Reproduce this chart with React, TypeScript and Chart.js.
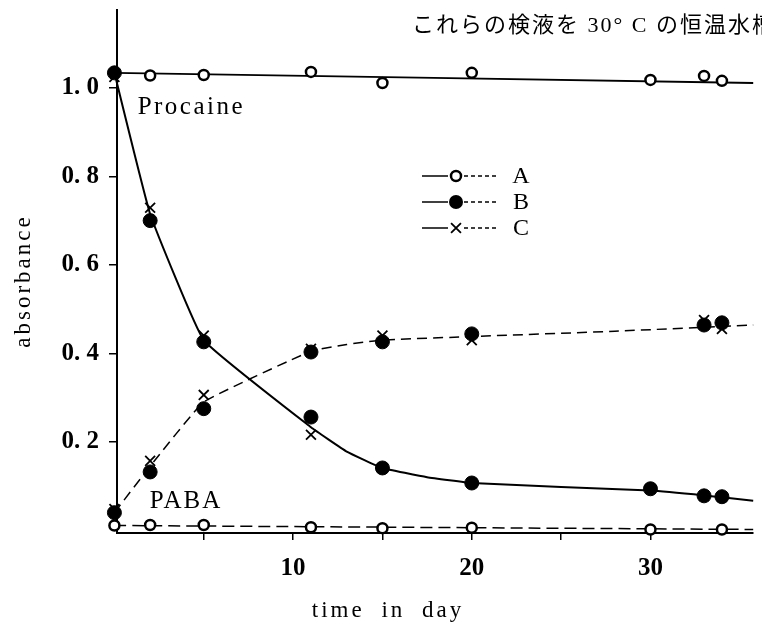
import React, { useEffect, useRef } from 'react';
import { Chart, registerables } from 'chart.js';

Chart.register(...registerables);

// ---------------- data ----------------
const days = [0, 2, 5, 11, 15, 20, 30, 33, 34];

// procaine (solid curves)
const procaineA = [1.034, 1.028, 1.029, 1.036, 1.011, 1.034, 1.018, 1.027, 1.016];
const procaineB = [1.034, 0.70, 0.426, 0.256, 0.141, 0.107, 0.094, 0.078, 0.076];
const procaineC = [1.025, 0.729, 0.44, 0.216, 0.141, 0.107, 0.094, 0.078, 0.076];

// PABA (dashed curves)
const pabaA = [0.011, 0.012, 0.012, 0.007, 0.005, 0.006, 0.002, null, 0.002];
const pabaB = [0.04, 0.132, 0.275, 0.403, 0.426, 0.444, null, 0.464, 0.469];
const pabaC = [0.048, 0.157, 0.306, 0.41, 0.44, 0.43, null, 0.475, 0.455];

// drawn (hand-fitted) curves
const fitProcaineADays = [0, 35.75];
const fitProcaineA = [1.034, 1.011];
const fitProcaineBCDays = [0, 2, 5, 11, 13, 15, 17.5, 20, 25, 30, 33, 35.75];
const fitProcaineBC = [1.034, 0.715, 0.43, 0.233, 0.178, 0.141, 0.12, 0.107, 0.098, 0.09, 0.079, 0.067];
const fitPabaADays = [0, 35.75];
const fitPabaA = [0.011, 0.002];
const fitPabaBCDays = [0, 2, 5, 11, 13, 15, 20, 28, 35.75];
const fitPabaBC = [0.04, 0.145, 0.29, 0.405, 0.42, 0.43, 0.438, 0.45, 0.464];

// axes
const xTicks = [5, 10, 15, 20, 25, 30];
const xTickLabels = ['', '10', '', '20', '', '30'];
const yTicks = [0.2, 0.4, 0.6, 0.8, 1.0];
const yTickLabels = ['0. 2', '0. 4', '0. 6', '0. 8', '1. 0'];
const xMin = 0.145;
const xMax = 35.75;
const yMin = -0.006;
const yMax = 1.176;

// texts
const legendLabels = ['A', 'B', 'C'];
const topNote = 'これらの検液を 30° C の恒温水槽';
const yTitle = 'absorbance';
const xTitle = 'time in day';
const procaineLabel = 'Procaine';
const procaineLabelAt = [1.3, 0.94];
const pabaLabel = 'PABA';
const pabaLabelAt = [1.98, 0.05];

// ---------------- helpers ----------------
const SERIF = '"Liberation Serif", "Times New Roman", serif';

function pts(xs: number[], ys: (number | null)[]) {
  return xs
    .map((x, i) => ({ x, y: ys[i] }))
    .filter((p) => p.y !== null) as { x: number; y: number }[];
}

const openStyle = {
  pointStyle: 'circle',
  pointRadius: 5,
  pointBorderWidth: 2.5,
  pointBackgroundColor: '#fff',
  pointBorderColor: '#000',
  showLine: false,
  clip: false as any,
};
const filledStyle = {
  pointStyle: 'circle',
  pointRadius: 7,
  pointBorderWidth: 1,
  pointBackgroundColor: '#000',
  pointBorderColor: '#000',
  showLine: false,
  clip: false as any,
};
const crossStyle = {
  pointStyle: 'crossRot',
  pointRadius: 7,
  pointBorderWidth: 1.8,
  pointBackgroundColor: '#000',
  pointBorderColor: '#000',
  showLine: false,
  clip: false as any,
};

function fitStyle(dash: number[], width: number) {
  return {
    showLine: true,
    pointRadius: 0,
    borderColor: '#000',
    borderWidth: width,
    borderDash: dash,
    tension: 0.1,
    fill: false,
    clip: false as any,
    order: 10,
  };
}

function drawMarker(ctx: CanvasRenderingContext2D, kind: number, x: number, y: number) {
  ctx.save();
  ctx.setLineDash([]);
  if (kind === 0) {
    ctx.beginPath();
    ctx.arc(x, y, 5, 0, Math.PI * 2);
    ctx.fillStyle = '#fff';
    ctx.fill();
    ctx.lineWidth = 2.5;
    ctx.strokeStyle = '#000';
    ctx.stroke();
  } else if (kind === 1) {
    ctx.beginPath();
    ctx.arc(x, y, 7, 0, Math.PI * 2);
    ctx.fillStyle = '#000';
    ctx.fill();
  } else {
    const d = 7 * Math.cos(Math.PI / 4);
    ctx.lineWidth = 1.8;
    ctx.strokeStyle = '#000';
    ctx.beginPath();
    ctx.moveTo(x - d, y - d);
    ctx.lineTo(x + d, y + d);
    ctx.moveTo(x + d, y - d);
    ctx.lineTo(x - d, y + d);
    ctx.stroke();
  }
  ctx.restore();
}

const notesPlugin = {
  id: 'notes',
  afterDraw(chart: any) {
    const ctx: any = chart.ctx;
    const xs = chart.scales.x;
    const ys = chart.scales.y;
    ctx.save();
    ctx.fillStyle = '#000';
    ctx.strokeStyle = '#000';

    // top note (cut by the page edge, as in the source)
    ctx.font = `22px "Liberation Serif", "Noto Sans CJK JP", serif`;
    ctx.letterSpacing = '2px';
    ctx.textAlign = 'left';
    ctx.textBaseline = 'alphabetic';
    ctx.fillText(topNote, 412, 32);

    // curve labels
    ctx.font = `25px ${SERIF}`;
    ctx.letterSpacing = '2.5px';
    ctx.fillText(procaineLabel, xs.getPixelForValue(procaineLabelAt[0]), ys.getPixelForValue(procaineLabelAt[1]));
    ctx.letterSpacing = '2px';
    ctx.fillText(pabaLabel, xs.getPixelForValue(pabaLabelAt[0]), ys.getPixelForValue(pabaLabelAt[1]));

    // axis titles
    ctx.font = `23px ${SERIF}`;
    ctx.letterSpacing = '3px';
    ctx.wordSpacing = '8px';
    ctx.textAlign = 'center';
    ctx.fillText(xTitle, 388, 617);
    ctx.save();
    ctx.translate(24, 281);
    ctx.rotate(-Math.PI / 2);
    ctx.textBaseline = 'middle';
    ctx.fillText(yTitle, 0, 0);
    ctx.restore();
    ctx.wordSpacing = '0px';

    // legend
    legendLabels.forEach((lab, i) => {
      const ly = 176 + i * 26;
      ctx.lineWidth = 1.5;
      ctx.setLineDash([]);
      ctx.beginPath();
      ctx.moveTo(422, ly);
      ctx.lineTo(448, ly);
      ctx.stroke();
      ctx.setLineDash([4, 3]);
      ctx.beginPath();
      ctx.moveTo(464, ly);
      ctx.lineTo(497, ly);
      ctx.stroke();
      ctx.setLineDash([]);
      drawMarker(ctx, i, 456, ly);
      ctx.font = `24px ${SERIF}`;
      ctx.letterSpacing = '0px';
      ctx.textAlign = 'center';
      ctx.textBaseline = 'middle';
      ctx.fillText(lab, 521, ly + 1);
    });
    ctx.restore();
  },
};

export default function App() {
  const ref = useRef<HTMLCanvasElement | null>(null);

  useEffect(() => {
    if (!ref.current) return;
    const chart = new Chart(ref.current, {
      type: 'scatter',
      data: {
        datasets: [
          { label: 'fit procaine A', data: pts(fitProcaineADays, fitProcaineA), ...fitStyle([], 1.8) } as any,
          { label: 'fit procaine B/C', data: pts(fitProcaineBCDays, fitProcaineBC), ...fitStyle([], 2) } as any,
          { label: 'fit PABA A', data: pts(fitPabaADays, fitPabaA), ...fitStyle([12, 6], 1.5) } as any,
          { label: 'fit PABA B/C', data: pts(fitPabaBCDays, fitPabaBC), ...fitStyle([10, 6], 1.5) } as any,
          { label: 'A procaine', data: pts(days, procaineA), ...openStyle, order: 5 } as any,
          { label: 'A PABA', data: pts(days, pabaA), ...openStyle, order: 5 } as any,
          { label: 'C procaine', data: pts(days, procaineC), ...crossStyle, order: 4 } as any,
          { label: 'C PABA', data: pts(days, pabaC), ...crossStyle, order: 4 } as any,
          { label: 'B procaine', data: pts(days, procaineB), ...filledStyle, order: 3 } as any,
          { label: 'B PABA', data: pts(days, pabaB), ...filledStyle, order: 3 } as any,
        ],
      },
      options: {
        responsive: false,
        animation: false,
        devicePixelRatio: 1,
        layout: { padding: { top: 10, right: 7, left: 0, bottom: 0 } },
        plugins: { legend: { display: false }, tooltip: { enabled: false } },
        scales: {
          x: {
            type: 'linear',
            min: xMin,
            max: xMax,
            afterBuildTicks: (axis: any) => {
              axis.ticks = xTicks.map((v) => ({ value: v }));
            },
            afterFit: (axis: any) => {
              axis.height = 94;
              axis.paddingLeft = 0;
              axis.paddingRight = 0;
            },
            ticks: {
              autoSkip: false,
              maxRotation: 0,
              color: '#000',
              padding: 14,
              font: { family: SERIF, size: 25, weight: 'bold' },
              callback: (_v: any, i: number) => xTickLabels[i],
            },
            grid: { drawOnChartArea: false, drawTicks: true, tickLength: 7, color: '#000', lineWidth: 1.5 },
            border: { display: true, color: '#000', width: 2 },
          },
          y: {
            type: 'linear',
            min: yMin,
            max: yMax,
            afterBuildTicks: (axis: any) => {
              axis.ticks = yTicks.map((v) => ({ value: v }));
            },
            afterFit: (axis: any) => {
              axis.width = 117;
              axis.paddingTop = 0;
              axis.paddingBottom = 0;
            },
            ticks: {
              autoSkip: false,
              color: '#000',
              padding: 10,
              font: { family: SERIF, size: 25, weight: 'bold' },
              callback: (_v: any, i: number) => yTickLabels[i],
            },
            grid: { drawOnChartArea: false, drawTicks: true, tickLength: 8, color: '#000', lineWidth: 1.5 },
            border: { display: true, color: '#000', width: 2 },
          },
        },
      },
      plugins: [notesPlugin],
    } as any);
    return () => chart.destroy();
  }, []);

  return (
    <canvas
      ref={ref}
      width={762}
      height={627}
      style={{ position: 'absolute', left: 0, top: 0, display: 'block', background: '#fff' }}
    />
  );
}
